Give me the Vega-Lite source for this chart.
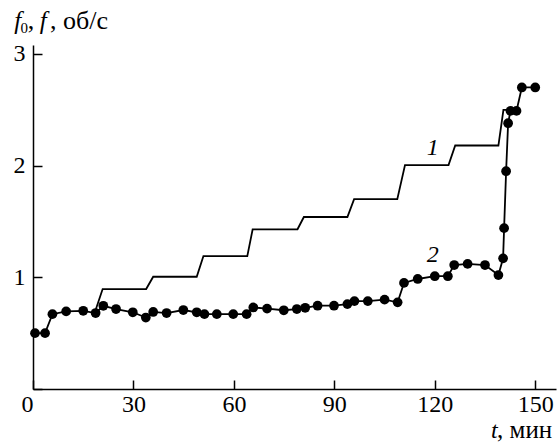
{
  "$schema": "https://vega.github.io/schema/vega-lite/v6.json",
  "width": 523,
  "height": 344,
  "autosize": "none",
  "padding": {"left": 33, "top": 45, "right": 3, "bottom": 56},
  "background": "white",
  "config": {
    "font": "Liberation Serif",
    "view": {"stroke": null},
    "axis": {
      "grid": false,
      "domainColor": "black",
      "domainWidth": 1.5,
      "tickColor": "black",
      "tickWidth": 1.5,
      "tickSize": -9,
      "labelFont": "Liberation Serif",
      "labelFontSize": 24,
      "labelColor": "black",
      "title": null
    },
    "text": {"font": "Liberation Serif", "fontSize": 25, "color": "black"}
  },
  "datasets": {
    "c1": [
      {"t": 18.5, "f": 0.69}, {"t": 20.8, "f": 0.895}, {"t": 33.8, "f": 0.895},
      {"t": 35.9, "f": 1.005}, {"t": 48.9, "f": 1.005}, {"t": 50.9, "f": 1.19},
      {"t": 64.0, "f": 1.19}, {"t": 65.6, "f": 1.43}, {"t": 79.0, "f": 1.43},
      {"t": 80.9, "f": 1.54}, {"t": 93.9, "f": 1.54}, {"t": 95.9, "f": 1.70},
      {"t": 108.8, "f": 1.70}, {"t": 111.1, "f": 2.005}, {"t": 124.1, "f": 2.005},
      {"t": 126.1, "f": 2.18}, {"t": 139.0, "f": 2.18}, {"t": 140.5, "f": 2.50},
      {"t": 142.0, "f": 2.50}
    ],
    "c2": [
      {"t": 0.6, "f": 0.50}, {"t": 3.6, "f": 0.50}, {"t": 5.8, "f": 0.67},
      {"t": 9.9, "f": 0.695}, {"t": 15.0, "f": 0.70}, {"t": 18.7, "f": 0.68},
      {"t": 21.0, "f": 0.745}, {"t": 24.8, "f": 0.716}, {"t": 29.8, "f": 0.687},
      {"t": 33.7, "f": 0.64}, {"t": 35.9, "f": 0.69}, {"t": 39.9, "f": 0.68},
      {"t": 44.9, "f": 0.707}, {"t": 48.9, "f": 0.687}, {"t": 51.2, "f": 0.67},
      {"t": 54.9, "f": 0.67}, {"t": 59.8, "f": 0.67}, {"t": 63.8, "f": 0.67},
      {"t": 65.8, "f": 0.73}, {"t": 69.9, "f": 0.72}, {"t": 74.9, "f": 0.705},
      {"t": 78.8, "f": 0.716}, {"t": 81.3, "f": 0.727}, {"t": 85.0, "f": 0.746},
      {"t": 89.9, "f": 0.746}, {"t": 93.9, "f": 0.76}, {"t": 96.0, "f": 0.787},
      {"t": 100.0, "f": 0.787}, {"t": 105.0, "f": 0.80}, {"t": 108.9, "f": 0.776},
      {"t": 110.8, "f": 0.95}, {"t": 114.9, "f": 0.985}, {"t": 120.0, "f": 1.01},
      {"t": 123.9, "f": 1.01}, {"t": 125.8, "f": 1.11}, {"t": 129.8, "f": 1.12},
      {"t": 135.0, "f": 1.11}, {"t": 139.0, "f": 1.02}, {"t": 140.4, "f": 1.17},
      {"t": 140.7, "f": 1.44}, {"t": 141.3, "f": 1.95}, {"t": 141.9, "f": 2.38},
      {"t": 142.6, "f": 2.49}, {"t": 144.4, "f": 2.49}, {"t": 146.0, "f": 2.70},
      {"t": 150.0, "f": 2.70}
    ]
  },
  "layer": [
    {
      "data": {"name": "c1"},
      "mark": {"type": "line", "color": "black", "strokeWidth": 1.8},
      "encoding": {
        "x": {
          "field": "t", "type": "quantitative",
          "scale": {"domain": [0, 156.2], "nice": false, "zero": false},
          "axis": {
            "values": [0, 30, 60, 90, 120, 150],
            "format": "d",
            "labelPadding": 12,
            "labelOffset": {"condition": {"test": "datum.value === 0", "value": -12}, "value": 0}
          }
        },
        "y": {
          "field": "f", "type": "quantitative",
          "scale": {"domain": [0, 3.08], "nice": false},
          "axis": {
            "values": [0, 1, 2, 3],
            "format": "d",
            "labelPadding": 17,
            "labelExpr": "datum.value === 0 ? '' : datum.label"
          }
        }
      }
    },
    {
      "data": {"name": "c2"},
      "mark": {"type": "line", "color": "black", "strokeWidth": 1.8},
      "encoding": {
        "x": {"field": "t", "type": "quantitative"},
        "y": {"field": "f", "type": "quantitative"}
      }
    },
    {
      "data": {"name": "c2"},
      "mark": {"type": "circle", "color": "black", "opacity": 1, "size": 95},
      "encoding": {
        "x": {"field": "t", "type": "quantitative"},
        "y": {"field": "f", "type": "quantitative"}
      }
    },
    {
      "data": {"values": [
        {"x": 119.4, "y": 2.16, "text": "1"},
        {"x": 119.4, "y": 1.20, "text": "2"}
      ]},
      "mark": {"type": "text", "fontSize": 24, "fontStyle": "italic", "align": "center", "baseline": "middle"},
      "encoding": {
        "x": {"field": "x", "type": "quantitative"},
        "y": {"field": "y", "type": "quantitative"},
        "text": {"field": "text"}
      }
    },
    {
      "data": {"values": [
        {"x": -5.6, "y": 3.223, "text": "f"},
        {"x": 2.0, "y": 3.223, "text": "f"}
      ]},
      "mark": {"type": "text", "fontStyle": "italic", "align": "left", "baseline": "alphabetic"},
      "encoding": {
        "x": {"field": "x", "type": "quantitative"},
        "y": {"field": "y", "type": "quantitative"},
        "text": {"field": "text"}
      }
    },
    {
      "data": {"values": [
        {"x": 136.8, "y": -0.44, "text": "t"}
      ]},
      "mark": {"type": "text", "fontSize": 24, "fontStyle": "italic", "align": "left", "baseline": "alphabetic"},
      "encoding": {
        "x": {"field": "x", "type": "quantitative"},
        "y": {"field": "y", "type": "quantitative"},
        "text": {"field": "text"}
      }
    },
    {
      "data": {"values": [
        {"x": -1.6, "y": 3.223, "text": ","},
        {"x": 5.1, "y": 3.223, "text": ", об/с"}
      ]},
      "mark": {"type": "text", "fontSize": 26, "align": "left", "baseline": "alphabetic"},
      "encoding": {
        "x": {"field": "x", "type": "quantitative"},
        "y": {"field": "y", "type": "quantitative"},
        "text": {"field": "text"}
      }
    },
    {
      "data": {"values": [
        {"x": 138.6, "y": -0.44, "text": ", мин"}
      ]},
      "mark": {"type": "text", "fontSize": 25, "align": "left", "baseline": "alphabetic"},
      "encoding": {
        "x": {"field": "x", "type": "quantitative"},
        "y": {"field": "y", "type": "quantitative"},
        "text": {"field": "text"}
      }
    },
    {
      "data": {"values": [
        {"x": -3.7, "y": 3.19, "text": "0"}
      ]},
      "mark": {"type": "text", "align": "left", "baseline": "alphabetic", "fontSize": 15},
      "encoding": {
        "x": {"field": "x", "type": "quantitative"},
        "y": {"field": "y", "type": "quantitative"},
        "text": {"field": "text"}
      }
    }
  ]
}
